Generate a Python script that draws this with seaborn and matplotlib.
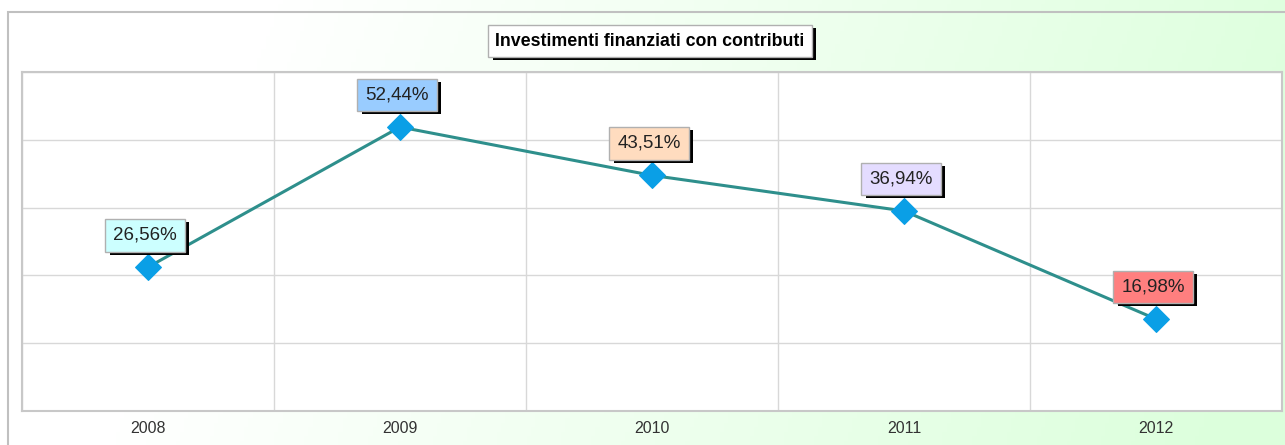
import numpy as np
import pandas as pd
import seaborn as sns
import matplotlib.pyplot as plt
import matplotlib.patheffects as pe
from matplotlib.patches import Rectangle

# Chart data.
years = ['2008', '2009', '2010', '2011', '2012']
values = [26.56, 52.44, 43.51, 36.94, 16.98]
label_colours = ['#ccffff', '#99ccff', '#ffdcbf', '#e4dcff', '#ff7f7f']
title = 'Investimenti finanziati con contributi'

df = pd.DataFrame({'pos': range(len(years)), 'year': years, 'value': values})

sns.set_theme(style='white')
plt.rcParams['font.family'] = ['Liberation Sans', 'DejaVu Sans']

W, H = 1285, 445
fig = plt.figure(figsize=(W / 100, H / 100), dpi=100)

# Background: white to pale green gradient with a grey frame.
bg = fig.add_axes([0, 0, 1, 1], zorder=-10)
xx, yy = np.meshgrid(np.linspace(0, 1, 300), np.linspace(0, 1, 100))
t = np.clip(xx * 1.15 - 0.25 + 0.15 * yy, 0, 1)
white = np.array([1.0, 1.0, 1.0])
green = np.array([0xdc, 0xff, 0xdc]) / 255
img = white[None, None, :] * (1 - t[..., None]) + green[None, None, :] * t[..., None]
bg.imshow(img, extent=[0, W, 0, H], aspect='auto', origin='upper')
bg.add_patch(Rectangle((8, -20), W + 20, H - 12 + 20, fill=False,
                       edgecolor='#c0c0c0', linewidth=1.5))
bg.set_xlim(0, W)
bg.set_ylim(0, H)
bg.axis('off')

ax = fig.add_axes([22 / W, 1 - 411 / H, (1282 - 22) / W, (411 - 72) / H])
ax.set_facecolor('white')

sns.lineplot(data=df, x='pos', y='value', ax=ax, color='#2e8f8c', linewidth=2.2,
             marker='D', markersize=13, markerfacecolor='#0a9fe6',
             markeredgecolor='#0a9fe6', zorder=3)

ax.set_xlim(-0.5, len(years) - 0.5)
ax.set_ylim(0, 62.6)
ax.set_yticks(np.linspace(0, 62.6, 6))
ax.set_yticklabels([])
ax.tick_params(axis='y', length=0)
ax.set_xticks(np.arange(len(years) + 1) - 0.5)
ax.set_xticklabels([])
ax.set_xticks(np.arange(len(years)), minor=True)
ax.set_xticklabels(years, minor=True, fontsize=11.5, color='#333333')
ax.tick_params(axis='x', which='major', length=9, color='#d0d0d0', width=1,
               direction='out')
ax.tick_params(axis='x', which='minor', length=0, pad=7)
ax.grid(True, which='major', color='#d8d8d8', linewidth=1)
ax.set_xlabel('')
ax.set_ylabel('')
for side in ['top', 'left', 'right', 'bottom']:
    ax.spines[side].set_color('#c8c8c8')
    ax.spines[side].set_linewidth(1.5)

shadow = [pe.SimplePatchShadow(offset=(3.2, -2.2), shadow_rgbFace='black', alpha=1),
          pe.Normal()]

# Value labels with a solid black drop shadow.
for i, (v, c) in enumerate(zip(values, label_colours)):
    txt = f'{v:.2f}%'.replace('.', ',')
    a = ax.annotate(txt, (i, v), xytext=(-3, 32), textcoords='offset pixels',
                    ha='center', va='center', fontsize=13.5, color='#222222', zorder=5,
                    bbox=dict(boxstyle='square,pad=0.42', facecolor=c,
                              edgecolor='#b0b0b0', linewidth=1))
    a.get_bbox_patch().set_path_effects(shadow)

# Title box with shadow.
tt = fig.text(650 / W, 1 - 41 / H, title, ha='center', va='center', fontsize=12.8,
              fontweight='bold', color='black',
              bbox=dict(boxstyle='square,pad=0.4', facecolor='white',
                        edgecolor='#b0b0b0'))
tt.get_bbox_patch().set_path_effects(shadow)

fig.savefig('out.png', dpi=100)
